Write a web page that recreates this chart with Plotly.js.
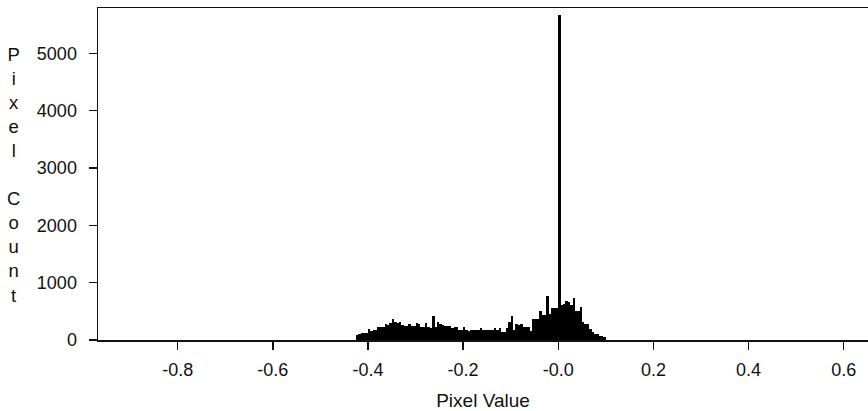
<!DOCTYPE html>
<html><head><meta charset="utf-8">
<script src="https://cdn.plot.ly/plotly-3.0.1.min.js"></script>
<style>html,body{margin:0;padding:0;background:#fff;overflow:hidden}#chart{width:868px;height:411px}</style>
</head><body><div id="chart"></div>
<script>
// Histogram bins (start and width) and counts
const binStart = -0.425;
const binWidth = 0.005;
const pixelCounts = [
  95, 100, 127, 127, 130, 200, 160, 168, 175, 231,
  225, 235, 272, 268, 300, 359, 307, 300, 318, 255,
  249, 245, 278, 243, 240, 290, 285, 231, 228, 290,
  220, 218, 422, 231, 307, 272, 265, 243, 245, 249,
  214, 225, 231, 175, 168, 231, 168, 165, 172, 168,
  170, 174, 215, 174, 170, 178, 174, 180, 215, 176,
  215, 133, 135, 214, 318, 422, 174, 272, 270, 275,
  231, 235, 231, 156, 365, 360, 370, 503, 434, 440,
  770, 446, 562, 565, 560, 5665, 619, 625, 677, 670,
  608, 735, 503, 505, 579, 318, 272, 272, 191, 145,
  98, 98, 75, 75, 60
];
const xTickValues = [-0.8, -0.6, -0.4, -0.2, 0, 0.2, 0.4, 0.6];
const xTickLabels = ["-0.8", "-0.6", "-0.4", "-0.2", "-0.0", "0.2", "0.4", "0.6"];
const yTickValues = [0, 1000, 2000, 3000, 4000, 5000];
const yTickLabels = ["0", "1000", "2000", "3000", "4000", "5000"];
const xTitle = "Pixel Value";
const yTitleLetters = ["P", "i", "x", "e", "l", "\u00a0", "C", "o", "u", "n", "t"];

const binCenters = pixelCounts.map((_, i) => binStart + binWidth * (i + 0.5));

const fontFamily = '"Liberation Sans", Arial, sans-serif';
const trace = {
  type: 'bar',
  x: binCenters,
  y: pixelCounts,
  width: binWidth,
  marker: {color: '#000000', line: {width: 0}},
  hoverinfo: 'x+y'
};

const axisCommon = {
  showgrid: false,
  zeroline: false,
  showline: true,
  linecolor: '#111111',
  linewidth: 1.5,
  ticks: 'outside',
  ticklen: 8,
  tickwidth: 1.5,
  tickcolor: '#111111',
  tickfont: {family: fontFamily, size: 18, color: '#111111'}
};

const layout = {
  width: 868,
  height: 411,
  margin: {l: 98, r: 0, t: 8, b: 71},
  paper_bgcolor: '#ffffff',
  plot_bgcolor: '#ffffff',
  showlegend: false,
  bargap: 0,
  font: {family: fontFamily, size: 18, color: '#111111'},
  xaxis: Object.assign({}, axisCommon, {
    range: [-0.9674, 0.651],
    mirror: true,
    tickvals: xTickValues,
    ticktext: xTickLabels,
    ticklabelstandoff: 5,
    title: {text: xTitle, font: {family: fontFamily, size: 19, color: '#111111'}, standoff: 14}
  }),
  yaxis: Object.assign({}, axisCommon, {
    range: [0, 5790],
    tickvals: yTickValues,
    ticktext: yTickLabels,
    ticklabelstandoff: 8
  }),
  annotations: [{
    xref: 'paper', yref: 'paper',
    x: -85 / 770, y: 0.497,
    xanchor: 'center', yanchor: 'middle',
    text: yTitleLetters.join('<br>'),
    showarrow: false,
    align: 'center',
    font: {family: fontFamily, size: 18.5, color: '#111111'}
  }]
};

Plotly.newPlot('chart', [trace], layout, {displayModeBar: false, staticPlot: true});
</script>
</body></html>
